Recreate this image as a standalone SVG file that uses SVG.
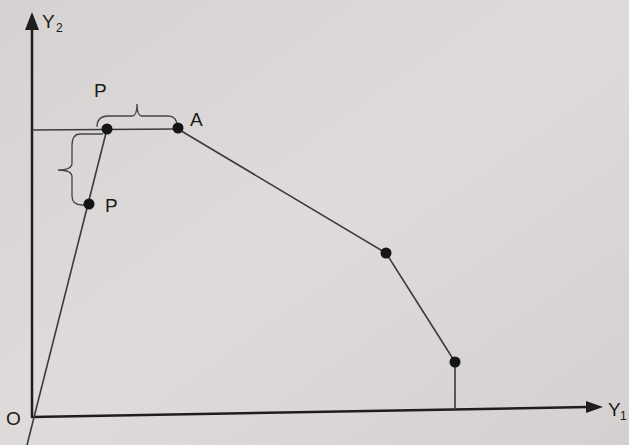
<svg xmlns="http://www.w3.org/2000/svg" width="629" height="445" viewBox="0 0 629 445">
<style>
.ax{stroke:#1e1e1e;stroke-width:2.5;fill:none}
.ln{stroke:#3a3a3a;stroke-width:1.6;fill:none}
.br{stroke:#444;stroke-width:1.3;fill:none}
.dot{fill:#151515}
.t{font-family:"Liberation Sans",Arial,sans-serif;font-size:19px;fill:#1a1a1a}
.s{font-family:"Liberation Sans",Arial,sans-serif;font-size:12px;fill:#1a1a1a}
</style>
<defs>
<linearGradient id="bg" x1="0" y1="0" x2="1" y2="1">
<stop offset="0" stop-color="#d6d2d1"/>
<stop offset="0.5" stop-color="#dedbda"/>
<stop offset="1" stop-color="#d4d0cf"/>
</linearGradient>
</defs>
<rect width="629" height="445" fill="url(#bg)"/>
<g id="connectors">
<line class="ax" x1="32" y1="418" x2="32" y2="30"/>
<path d="M25,30 L32,12 L39,30 z" fill="#1e1e1e"/>
<line class="ax" x1="32" y1="417" x2="588" y2="407"/>
<path d="M586,401 L603,407 L586,413 z" fill="#1e1e1e"/>
<line class="ln" x1="32" y1="130" x2="178" y2="129"/>
<line class="ln" x1="27" y1="445" x2="107" y2="129"/>
<polyline class="ln" points="178,129 386,253 455,362 455,410"/>
<path class="br" d="M97,127 Q97,116 108,116 L132,116 Q137,116 137,104 Q137,116 142,116 L168,116 Q177,116 177,126"/>
<path class="br" d="M103,134 L80,134 Q72,134 72,146 L72,163 Q72,170 58,170 Q72,170 72,177 L72,196 Q72,205 82,205 L88,205"/>
</g>
<g id="O"><text class="t" x="6" y="425">O</text></g>
<g id="Y2"><text class="t" x="42" y="28">Y</text><text class="s" x="56" y="32">2</text></g>
<g id="Y1"><text class="t" x="608" y="416">Y</text><text class="s" x="620" y="420">1</text></g>
<g id="P1"><circle class="dot" cx="107" cy="129" r="5.5"/><text class="t" x="94" y="97">P</text></g>
<g id="A"><circle class="dot" cx="178" cy="128" r="5.5"/><text class="t" x="190" y="126">A</text></g>
<g id="P2"><circle class="dot" cx="89" cy="204" r="5.5"/><text class="t" x="105" y="212">P</text></g>
<g id="B"><circle class="dot" cx="386" cy="253" r="5.5"/></g>
<g id="C"><circle class="dot" cx="455" cy="362" r="5.5"/></g>
</svg>
